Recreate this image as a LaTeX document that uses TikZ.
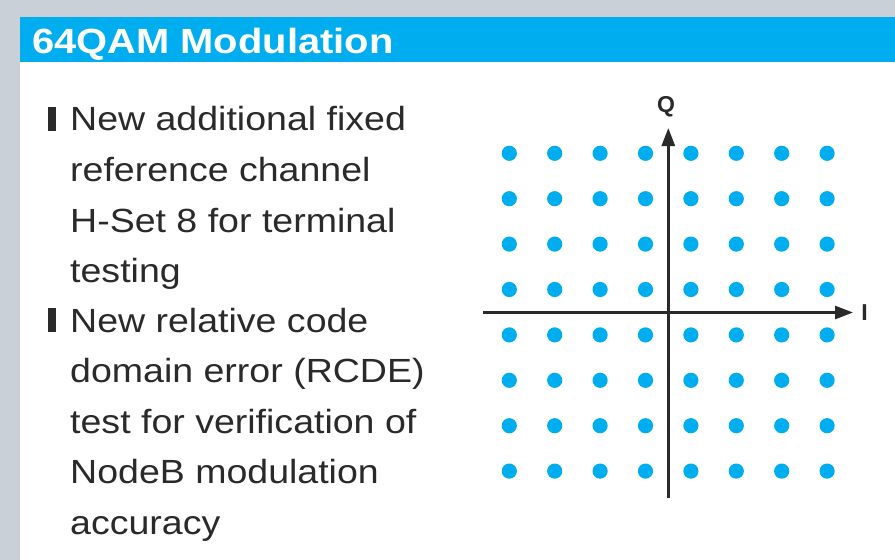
\documentclass[tikz,border=0pt]{standalone}
\usepackage{fontspec}
\setmainfont{Liberation Sans}
\newfontfamily\titlefont[FakeStretch=1.14]{Liberation Sans}
\newfontfamily\bodyfont[FakeStretch=1.12]{Liberation Sans}
\usetikzlibrary{arrows.meta}
\definecolor{qamblue}{HTML}{00AEEF}
\definecolor{pagegray}{HTML}{C9D0D7}
\definecolor{bodytext}{HTML}{2A2A2A}
\tikzset{
  bodyline/.style={anchor=base west,inner sep=0pt,text=bodytext,font=\bodyfont\fontsize{33.5}{40}\selectfont},
  axislabel/.style={inner sep=0pt,text=bodytext,font=\bfseries\fontsize{23}{26}\selectfont},
  axis/.style={line width=2.8pt,draw=bodytext,-{Triangle[length=18pt,width=13pt]}},
  qamdot/.style={fill=qamblue}
}
\begin{document}
\begin{tikzpicture}[x=1pt,y=-1pt]
  \useasboundingbox (0,0) rectangle (895,560);
  % panel
  \fill[pagegray] (0,0) rectangle (895,560);
  \fill[white] (20,17) rectangle (895,560);
  \fill[qamblue] (20,17) rectangle (895,62);
  \node[anchor=base west,inner sep=0pt,text=white,font=\titlefont\bfseries\fontsize{35}{40}\selectfont] (title) at (32,53.3) {64QAM Modulation};
  % bullets
  \fill[bodytext] (48.3,106.7) rectangle (56,130.7);
  \fill[bodytext] (48.3,308) rectangle (56,332);
  \node[bodyline] (ln1) at (70,130.7) {New additional fixed};
  \node[bodyline] (ln2) at (70,181.4) {reference channel};
  \node[bodyline] (ln3) at (70,232.1) {H-Set 8 for terminal};
  \node[bodyline] (ln4) at (70,282.1) {testing};
  \node[bodyline] (ln5) at (70,332.2) {New relative code};
  \node[bodyline] (ln6) at (70,382.8) {domain error (RCDE)};
  \node[bodyline] (ln7) at (70,433.3) {test for verification of};
  \node[bodyline] (ln8) at (70,483.8) {NodeB modulation};
  \node[bodyline] (ln9) at (70,534.3) {accuracy};
  % constellation
  \foreach \i in {0,...,7}
    \foreach \j in {0,...,7}
      \fill[qamdot] (509.3+45.4*\i,153.3+45.4*\j) circle (7.6pt);
  \coordinate (ileft) at (483,312.5);
  \coordinate (iright) at (853,312.5);
  \coordinate (qlow) at (668.3,498);
  \coordinate (qtop) at (668.3,128);
  \draw[axis] (ileft) -- (iright);
  \draw[axis] (qlow) -- (qtop);
  \node[axislabel] (qlab) at (666,106.7) {Q};
  \node[axislabel] (ilab) at (864.5,313) {I};
\end{tikzpicture}
\end{document}
